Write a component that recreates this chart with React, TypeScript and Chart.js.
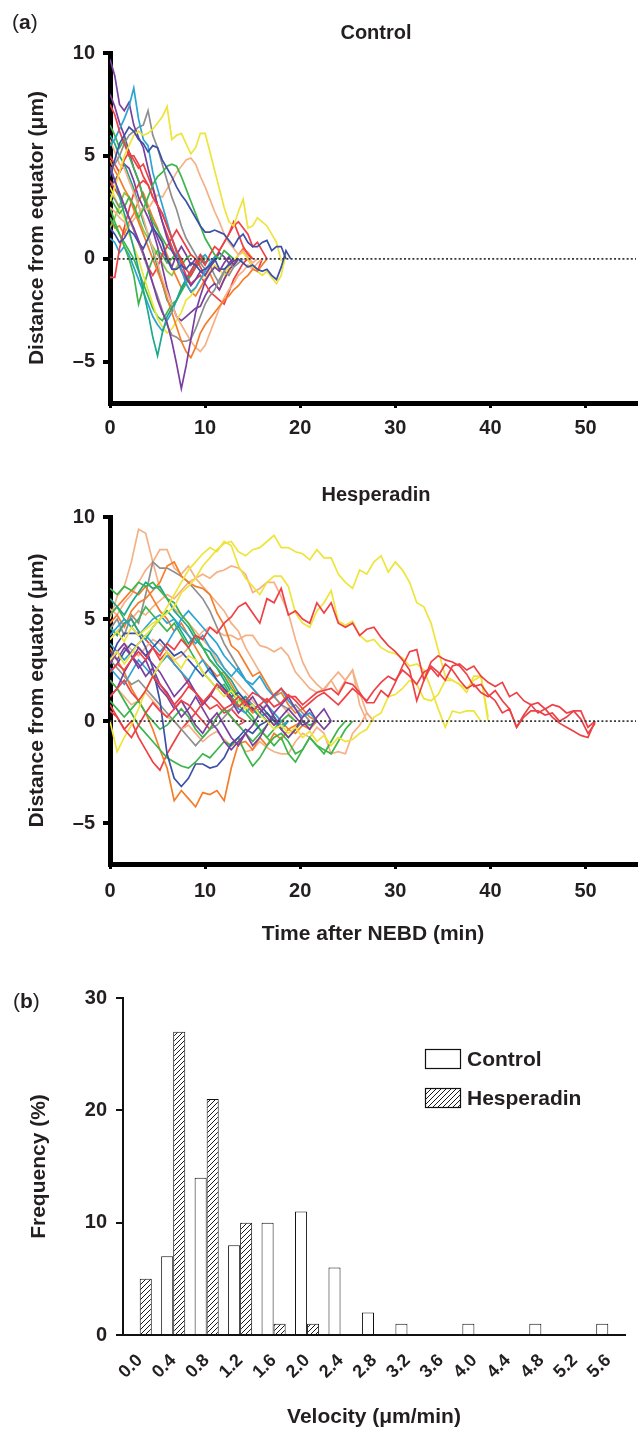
import React, { useEffect, useRef } from "react";
import { Chart, registerables } from "chart.js";

Chart.register(...registerables);

const FONT = "'Liberation Sans', Arial, Helvetica, sans-serif";
const INK = "#231f20";
const W = 639;

const YELLOW = "#eee43a";
const PEACH = "#f5b186";
const ORANGE = "#f47d2a";
const RED = "#ee4145";
const GREEN = "#3db54b";
const TEAL = "#1ca88c";
const CYAN = "#2ba4d4";
const BLUE = "#3c50a6";
const PURPLE = "#7a3f9f";
const GRAY = "#8f8f8f";
const LIME = "#8dc641";

const X_TICKS = [0, 10, 20, 30, 40, 50];
const Y_TICKS = [-5, 0, 5, 10];
const X_MAX = 55.3;
const CONTROL_STEP = 0.5; // min between positions
const HESP_STEP = 0.75;

// ---- Control traces (distance from equator, µm) ----
const C_YELLOW_A = [2.8,3.5,4.2,5.0,5.5,6.0,6.2,6.0,6.1,6.3,6.6,6.9,7.4,5.8,6.0,6.1,5.6,5.1,5.4,6.1,6.1,5.2,4.3,3.4,2.5,1.8,1.6,2.3,2.9,1.5,1.6,2.0,1.8,1.6,1.2,0.8,-0.1];
const C_YELLOW_B = [3.5,3.0,2.4,2.0,1.2,0.6,0.0,-0.8,-1.5,-2.2,-2.9,-3.3,-3.6,-3.4,-3.0,-2.6,-2.0,-1.8,-1.4,-1.0,-0.8,-0.6,-0.3,-0.5,-0.8,-0.4,-0.1,0.2,0.3,0.0,-0.4,-0.6,-0.8,-0.6,-0.9,-1.2,-0.8,0.3];
const C_PEACH_A = [2.5,2.3,2.0,1.8,1.6,1.9,2.2,2.5,2.4,2.8,3.1,3.0,3.4,3.8,4.2,4.5,4.8,4.9,4.6,4.0,3.5,2.9,2.3,1.8,1.2,0.8,0.5,0.2,0.4,0.1,-0.2,0.0];
const C_PEACH_B = [5.8,5.2,4.6,4.4,3.8,3.2,2.6,2.0,1.2,0.5,-0.2,-1.0,-1.6,-2.2,-2.8,-3.2,-3.6,-4.0,-4.3,-4.5,-4.2,-3.6,-3.0,-2.4,-1.9,-1.5,-1.2,-0.8,-0.6,-0.3,-0.5,-0.2,0.0];
const C_ORANGE_A = [4.8,4.3,3.9,3.4,3.0,2.4,1.8,1.2,0.6,0.0,-0.6,-1.2,-1.9,-2.6,-3.3,-4.0,-4.5,-4.8,-4.3,-3.6,-3.2,-2.9,-2.6,-2.3,-2.0,-1.8,-1.5,-1.3,-1.0,-0.8,-0.5,-0.6,-0.3,0.0];
const C_ORANGE_B = [2.0,1.5,1.6,1.2,1.8,2.2,2.8,3.2,2.6,2.0,1.5,0.8,0.2,-0.4,-0.9,-1.4,-1.2,-1.6,-1.8,-1.4,-1.0,-0.7,-1.2,-1.5,-1.0,-0.6,-0.2,0.2,0.5,0.3,0.0];
const C_GRAY_A = [4.3,4.6,5.0,5.6,6.0,6.2,6.4,6.5,7.2,6.0,5.4,4.6,3.8,3.0,2.4,1.6,1.0,0.6,0.2,-0.2,-0.5,-0.3,-0.8,-1.2,-0.6,-0.2,-0.4];
const C_GRAY_B = [3.2,2.9,2.5,2.6,2.0,1.4,0.8,0.2,-0.5,-1.2,-1.8,-2.5,-3.2,-3.7,-3.8,-4.0,-4.0,-3.9,-3.4,-2.8,-2.2,-1.8,-1.5,-1.0,-0.6,-0.8,-0.4,-0.2,0.0];
const C_PURPLE_A = [9.7,8.9,7.5,7.2,7.6,6.5,5.9,5.4,4.4,3.5,2.6,1.8,1.0,0.4,0.0,-0.5,-0.9,-1.3,-1.0,-0.6,-0.8,-0.4,-0.1,0.3,0.1,-0.2,0.0];
const C_PURPLE_B = [4.5,3.8,3.2,2.6,2.0,1.5,0.9,0.3,-0.4,-1.2,-2.0,-2.6,-3.1,-4.0,-5.1,-6.3,-5.2,-3.9,-2.6,-1.8,-1.1,-0.7,-0.4,-0.6,-0.2,0.1,-0.3,0.0];
const C_PURPLE_C = [3.5,3.8,4.2,4.6,4.4,3.8,3.0,2.5,2.0,1.4,0.6,-0.4,-1.4,-2.2,-2.8,-3.0,-2.8,-2.6,-2.4,-2.3,-1.8,-1.4,-1.2,-1.5,-1.0,-0.5,-0.3,0.0];
const C_PURPLE_D = [8.0,7.4,6.6,6.0,5.2,4.4,3.8,3.0,2.4,1.6,1.0,0.4,0.0,-0.4,0.2,0.6,0.2,-0.3,0.0];
const C_BLUE_A = [4.0,4.8,5.6,6.0,6.4,6.2,5.8,5.6,5.2,5.5,5.4,4.8,4.4,4.0,3.5,3.1,2.8,2.4,2.0,1.6,1.3,1.3,1.4,1.3,1.2,0.9,0.6,1.0,1.2,0.8,0.6,0.6,0.8,0.9,0.4,0.6,0.6,0.0];
const C_BLUE_B = [1.5,1.2,0.8,1.0,1.4,1.2,0.8,0.5,1.0,1.5,1.2,0.8,0.0,-0.5,-0.5,-0.3,-0.5,-0.2,-0.3,-0.6,-0.5,-0.3,0.0,-0.5,-0.5,-0.3,-0.1,0.0,-0.2,-0.4,-0.3,-0.5,-0.6,-0.5,-0.8,-1.0,-0.4,0.4,0.0];
const C_CYAN_A = [5.5,5.8,6.3,6.8,7.4,8.3,6.8,5.8,5.5,4.2,3.4,2.6,1.8,1.0,0.3,-0.5,-1.2,-1.6,-1.4,-1.0,-0.6,-0.2,0.1,0.0];
const C_CYAN_B = [1.0,0.8,0.3,0.6,0.2,-0.4,-1.0,-1.6,-2.2,-2.8,-3.2,-3.5,-3.0,-2.6,-2.0,-1.5,-1.0,-0.6,-0.2,0.0,0.2,-0.1];
const C_TEAL_A = [4.5,3.8,3.0,2.2,1.4,0.5,-0.5,-1.5,-2.6,-3.8,-4.7,-3.6,-2.8,-2.4,-2.0,-1.5,-1.0,-0.8,-0.4,0.0,-0.2,0.0];
const C_TEAL_B = [6.0,5.6,5.0,4.6,4.0,3.4,2.6,1.8,1.2,0.4,-0.4,-1.2,-2.0,-2.4,-2.0,-1.4,-1.0,-0.6,-0.2,0.2,0.0];
const C_GREEN_A = [2.5,1.8,1.2,0.6,0.0,-0.8,-2.2,-1.4,-0.6,0.0,0.4,0.2,-0.2,0.0,0.3,0.0];
const C_GREEN_B = [3.0,2.6,2.2,2.5,3.0,2.6,2.0,2.4,3.0,3.6,4.0,4.2,4.5,4.6,4.5,4.0,3.4,2.8,2.2,1.6,1.0,0.6,0.2,0.0,0.4,0.2,0.0];
const C_GREEN_C = [6.5,6.0,5.4,5.8,5.0,4.4,3.8,3.0,2.4,1.8,1.4,1.0,0.6,0.4,0.0,-0.3,0.0,0.2];
const C_GREEN_D = [2.0,1.6,1.2,0.8,0.4,0.0,-0.6,-1.2,-1.8,-2.4,-2.8,-3.0,-2.6,-2.2,-2.0,-1.6,-1.2,-0.8,-0.4,-0.2,0.0];
const C_RED_A = [7.5,7.0,6.2,5.6,5.0,5.0,4.6,4.0,3.6,3.0,2.6,2.2,1.6,1.0,0.4,0.0,-0.5,-0.8,-0.4,0.0,-0.3,0.2,0.6,0.4,0.8,1.2,1.6,1.8,1.5,1.2,0.6,0.8,0.4,0.0];
const C_RED_B = [-0.9,-0.9,0.5,1.5,2.4,3.2,3.6,3.8,3.6,3.0,2.6,2.2,1.6,1.0,0.4,-0.2,-0.8,-1.2,-1.0,-0.8,-1.2,-1.6,-1.8,-2.0,-2.2,-1.6,-1.0,-0.6,-0.2,0.0,-0.4,-0.6,0.0];
const C_RED_C = [5.0,4.6,4.2,4.8,5.2,4.8,4.4,4.6,4.0,3.4,2.6,1.8,1.2,0.6,0.0,-0.6,-1.0,-0.6,-0.2,0.2,-0.2,0.0];
const C_RED_D = [3.8,3.4,3.0,2.6,2.0,1.4,0.8,0.2,-0.4,-0.8,-0.4,0.2,0.6,1.0,1.4,1.0,0.6,0.2,0.0,-0.4,-0.8,-0.4,0.0,0.4,0.8,1.2,1.8,1.2,0.6,0.2,0.0];
const C_LIME = [1.5,2.0,2.6,3.2,3.0,2.6,2.0,1.4,1.0,0.6,0.2,-0.2,-0.6,-0.8,-0.4,0.0];

// ---- Hesperadin traces ----
const H_RED_A = [2.4,2.8,2.5,3.0,3.4,3.0,3.6,3.2,3.8,3.5,4.0,3.6,4.2,4.0,4.6,4.3,4.8,5.1,5.6,5.8,5.3,4.8,6.0,5.8,6.5,5.2,5.4,5.0,4.8,5.8,5.3,5.8,4.8,4.6,4.8,4.2,4.5,4.6,4.1,3.7,3.4,3.0,2.5,1.0,2.0,2.7,2.4,2.0,2.7,2.8,2.5,2.7,2.2,1.9,1.7,1.9,1.2,1.4,1.0,0.8,0.9,0.6,0.8,0.7,0.4,0.5,0.5,-0.3,0.0];
const H_RED_B = [1.2,1.6,2.0,1.4,1.0,1.5,2.2,1.8,1.3,0.8,1.2,1.7,1.4,0.9,1.3,1.8,1.5,1.1,0.7,1.0,1.4,1.2,0.9,1.3,1.6,1.2,1.2,0.8,1.1,1.4,1.5,1.6,1.3,1.9,1.8,1.4,0.9,0.9,1.5,1.2,1.9,2.7,3.4,3.5,2.0,2.9,3.2,3.0,2.9,2.7,2.3,1.7,1.8,1.3,1.0,0.4,0.6,-0.3,0.2,0.5,0.5,0.3,0.4,0.0,0.2,0.5,0.1,-0.6,-0.1];
const H_RED_C = [0.5,0.2,-0.4,-0.8,-0.2,0.4,0.9,0.5,0.2,0.6,1.0,0.8,0.4,0.9,1.3,1.0,0.6,0.8,1.2,0.9,0.5,0.8,1.1,0.7,0.9,1.3,1.0,0.6,0.9,1.2,1.4,1.1,0.8,1.2,1.6,1.3,1.0,1.5,1.9,2.2,2.0,2.5,2.2,1.8,2.4,2.6,2.2,2.8,2.5,2.0,1.6,1.8,1.4,1.2,1.5,1.0,0.6,-0.3,0.3,0.8,0.4,0.6,0.2,-0.1,-0.3,-0.5,-0.7,-0.8,0.0];
const H_RED_D = [0.8,0.2,-0.4,0.0,-0.8,-1.4,-2.0,-2.4,-1.6,-1.0,-0.4,0.0,0.4,0.0,-0.4,0.2,0.6,0.2,-0.2,0.0];
const H_RED_E = [4.6,4.2,4.8,5.0,4.4,4.0,3.6,3.0,3.4,2.8,2.4,1.8,1.4,1.0,0.6,0.8,0.4,0.6,0.2,0.0];
const H_YELLOW_A = [4.0,4.4,3.9,4.6,4.2,4.5,4.8,5.0,5.3,5.6,6.3,6.6,7.0,7.6,8.0,8.4,8.7,8.8,8.3,8.1,8.4,8.5,8.8,9.1,8.5,8.5,8.3,8.2,7.9,8.4,8.0,8.0,7.2,6.8,6.5,7.4,7.2,7.8,8.1,7.3,7.8,7.4,6.8,5.8,5.6,4.8,3.5,2.2,2.0,1.8,1.4,2.2,2.2,0.0];
const H_YELLOW_B = [3.0,3.4,2.8,3.3,3.8,4.2,4.6,5.0,5.6,6.2,6.8,7.4,7.8,8.2,8.5,8.3,8.8,8.6,7.6,7.0,6.6,6.2,6.8,7.1,7.1,6.6,5.3,4.8,4.6,5.4,5.8,6.4,4.9,4.7,4.9,4.2,3.9,4.0,3.6,3.4,3.3,3.1,2.7,2.8,2.5,1.6,0.6,-0.3,0.5,0.4,0.5,0.5,0.0];
const H_YELLOW_C = [0.0,-1.5,-0.8,-0.2,0.6,1.5,2.2,2.8,3.4,3.0,2.6,3.2,3.0,2.4,2.0,1.6,1.2,1.5,1.0,0.6,0.8,0.3,0.0,-0.4,-0.2,-0.6,-0.3,-0.8,-0.5,-1.0,-0.7,-1.2,-0.8,-1.0,-0.9,-0.6,-0.4,0.2,0.4,1.2,1.3,1.6,2.0,1.8,1.1,1.0,1.3,2.0,2.0,1.8,1.6,2.0,2.2,0.2];
const H_PEACH_A = [5.0,6.1,6.6,7.8,9.4,9.2,7.8,6.5,6.0,5.5,5.2,4.8,4.4,4.0,3.6,3.0,2.6,2.2,1.8,1.4,1.0,0.6,0.8,0.4,0.0];
const H_PEACH_B = [4.0,4.4,4.8,5.0,5.4,5.2,5.6,5.9,6.2,6.0,6.4,6.8,7.0,7.2,7.0,7.3,7.4,7.6,7.5,7.2,6.3,6.5,6.8,6.8,6.1,5.3,4.0,2.9,2.2,1.8,1.5,2.0,1.4,2.0,2.5,0.8,0.0];
const H_PEACH_C = [3.0,3.4,3.8,3.5,3.2,3.6,4.0,3.8,3.4,3.0,3.2,3.6,4.0,4.4,4.6,4.4,4.2,4.2,4.0,4.2,4.2,3.7,3.6,3.4,3.6,3.2,2.4,2.0,1.6,1.4,1.6,2.0,2.4,2.0,2.5,1.4,0.4,0.0];
const H_PEACH_D = [2.0,1.6,1.2,0.8,1.0,1.4,1.0,0.6,0.2,0.0,-0.4,-0.2,-0.6,-1.0,-0.7,-0.5,-0.9,-1.2,-1.0,-1.5,-1.4,-1.0,-1.3,-1.5,-1.6,-1.6,-1.0,-0.6,-0.8,-0.3,-0.6,-1.6,-1.5,-1.6,-0.6,-0.2,0.4,0.0];
const H_PEACH_E = [5.5,5.2,5.8,6.2,6.8,7.4,7.8,8.4,8.4,7.5,7.2,7.6,7.0,6.6,6.2,5.8,5.4,4.8,4.4,3.6,3.0,2.4,1.8,1.2,0.8,0.4,0.0];
const H_ORANGE_A = [3.6,3.0,2.4,1.6,1.0,0.4,-0.4,-1.4,-2.3,-3.9,-3.4,-3.8,-4.2,-3.5,-3.6,-3.4,-3.9,-2.3,-1.1,-1.0,-1.4,-0.8,-1.2,-0.6,-0.9,-0.4,-0.6,-0.2,-0.4,0.0];
const H_ORANGE_B = [4.8,5.2,4.6,5.4,5.8,6.0,6.4,6.8,7.6,7.8,7.1,6.8,6.6,6.5,6.2,5.3,4.7,3.7,3.4,2.8,2.2,2.4,1.8,1.2,1.4,0.8,0.4,0.6,0.2,0.0];
const H_ORANGE_C = [5.2,5.6,6.0,6.4,6.2,6.6,6.0,5.4,5.0,4.4,4.8,4.2,3.6,3.0,2.6,2.2,2.4,1.8,1.2,0.8,0.4,0.6,0.2,-0.2,0.0,-0.4,-0.2,0.0];
const H_GRAY_A = [4.5,5.0,4.2,5.2,4.8,6.2,7.8,7.5,7.5,7.3,7.1,6.8,6.4,6.0,5.4,4.6,3.8,3.2,2.6,2.0,1.6,1.2,1.0,1.2,0.8,0.6,0.8,0.4,0.0];
const H_GRAY_B = [3.0,2.6,2.2,1.8,2.0,1.6,1.2,0.8,0.4,0.0,-0.4,-0.8,-1.2,-0.8,-0.4,-0.2,0.2,0.6,1.0,1.2,0.8,0.4,0.0];
const H_GREEN_A = [6.5,6.2,6.6,6.4,6.8,6.6,6.8,6.4,6.0,5.8,5.2,4.8,4.2,3.6,3.0,2.6,2.2,1.6,1.2,0.6,0.2,-0.4,-0.8,-1.2,-0.8,-1.6,-2.0,-1.4,-0.8,-1.2,-1.4,-1.6,-1.0,-0.4,0.0];
const H_TEAL_A = [6.0,5.6,5.2,5.8,6.3,6.8,6.5,6.6,6.0,5.4,5.0,4.6,4.0,3.6,3.4,2.8,2.4,2.0,1.4,1.0,0.6,0.2,0.4,0.0,-0.4,0.0];
const H_GREEN_B = [2.0,1.6,1.0,0.4,-0.2,-0.6,-1.0,-1.4,-1.8,-2.0,-2.2,-2.3,-2.0,-1.6,-1.8,-1.4,-1.0,-1.2,-0.8,-1.6,-2.2,-1.8,-1.2,-0.8,-0.6,-1.0,-1.6,-1.4,-0.8,-1.2,-1.6,-1.0,-0.4,0.0];
const H_GREEN_C = [5.2,5.6,5.0,4.6,5.0,5.6,5.2,4.8,4.4,4.8,4.2,3.6,3.0,2.4,2.0,1.6,1.8,1.2,0.8,0.4,0.0,-0.4,-0.8,-0.4,0.0,0.3,0.0];
const H_TEAL_B = [4.6,4.2,4.8,5.0,4.4,4.0,4.6,5.0,5.4,5.0,4.4,3.8,4.2,3.6,3.0,2.6,2.0,1.4,1.0,1.2,0.6,0.2,0.4,0.0];
const H_GREEN_D = [1.0,0.6,0.2,0.6,1.0,0.4,0.0,-0.4,-0.2,0.2,0.6,0.2,-0.4,-0.8,-0.4,0.2,0.6,0.2,-0.2,-0.6,-1.0,-0.6,-0.2,0.2,-0.4,-0.8,-0.4,0.0,-0.2,0.0];
const H_CYAN_A = [3.8,3.4,3.0,3.4,3.8,4.2,3.8,3.4,3.8,4.4,5.0,5.4,5.0,4.6,4.2,3.8,3.2,2.8,2.4,2.0,1.8,2.2,1.6,1.2,1.6,1.0,0.6,0.2,0.4,0.0];
const H_CYAN_B = [2.6,2.2,1.8,2.4,3.0,2.6,2.2,2.8,3.2,2.8,2.4,2.0,2.6,3.0,2.4,2.0,1.6,1.0,0.6,0.4,0.8,0.4,0.0,0.2,-0.2,0.0];
const H_CYAN_C = [4.2,4.6,5.0,4.6,4.2,4.6,5.0,5.2,4.8,5.0,4.6,4.2,3.8,4.2,3.6,3.2,2.6,2.2,2.6,2.0,1.6,1.2,0.8,0.4,0.0];
const H_BLUE_A = [3.0,3.8,4.3,4.3,4.3,3.6,2.6,1.0,-1.6,-2.8,-3.2,-2.8,-2.1,-2.1,-2.3,-2.2,-1.8,-1.1,-0.8,-0.4,-0.6,-0.2,0.0];
const H_BLUE_B = [2.4,2.8,3.4,3.8,3.6,3.2,3.6,4.0,3.6,3.2,3.4,3.0,2.6,2.2,2.6,2.0,1.6,1.2,1.4,1.0,0.6,0.8,0.4,0.0];
const H_PURPLE_A = [3.4,3.0,3.6,3.2,2.6,3.0,2.2,1.6,1.2,0.6,1.0,0.4,-0.2,-0.6,0.0,0.4,-0.2,-0.8,-1.2,-0.6,-0.2,0.4,0.8,0.2,-0.4,-0.8,-0.4,0.2,0.6,0.0,-0.4,0.0];
const H_PURPLE_B = [2.8,3.4,3.8,3.2,2.8,2.2,2.6,1.8,1.4,0.8,0.2,0.6,1.2,0.6,0.0,-0.4,-1.0,-1.4,-1.0,-0.6,-1.2,-0.8,-0.2,0.4,0.8,1.2,0.6,0.0,-0.4,0.2,0.6,0.0];
const H_PURPLE_C = [1.2,1.6,2.4,3.0,3.6,3.2,2.8,2.4,1.8,1.2,1.6,2.0,1.4,0.8,1.2,1.8,1.4,1.0,0.4,0.8,1.2,0.6,0.2,-0.2,0.2,0.6,0.2,-0.2,0.0];

const CONTROL_TRACES: [number[], string][] = [
  [C_PURPLE_B, PURPLE], [C_BLUE_A, BLUE], [C_BLUE_B, BLUE], [C_YELLOW_A, YELLOW], [C_RED_A, RED],
  [C_GREEN_B, GREEN], [C_CYAN_A, CYAN], [C_PURPLE_A, PURPLE], [C_TEAL_A, TEAL], [C_ORANGE_A, ORANGE],
  [C_GRAY_A, GRAY], [C_GRAY_B, GRAY], [C_PEACH_A, PEACH], [C_PEACH_B, PEACH], [C_YELLOW_B, YELLOW],
  [C_RED_B, RED], [C_RED_C, RED], [C_RED_D, RED], [C_GREEN_A, GREEN], [C_GREEN_C, GREEN],
  [C_GREEN_D, GREEN], [C_TEAL_B, TEAL], [C_CYAN_B, CYAN], [C_PURPLE_C, PURPLE], [C_PURPLE_D, PURPLE],
  [C_ORANGE_B, ORANGE], [C_LIME, LIME],
];

const HESP_TRACES: [number[], string][] = [
  [H_RED_A, RED], [H_RED_B, RED], [H_RED_C, RED], [H_YELLOW_A, YELLOW], [H_YELLOW_B, YELLOW],
  [H_YELLOW_C, YELLOW], [H_PURPLE_A, PURPLE], [H_PURPLE_B, PURPLE], [H_PURPLE_C, PURPLE], [H_BLUE_A, BLUE],
  [H_BLUE_B, BLUE], [H_GREEN_A, GREEN], [H_GREEN_B, GREEN], [H_GREEN_D, GREEN], [H_CYAN_A, CYAN],
  [H_CYAN_B, CYAN], [H_CYAN_C, CYAN], [H_TEAL_A, TEAL], [H_TEAL_B, TEAL], [H_GREEN_C, GREEN],
  [H_ORANGE_A, ORANGE], [H_ORANGE_B, ORANGE], [H_ORANGE_C, ORANGE], [H_GRAY_A, GRAY], [H_GRAY_B, GRAY],
  [H_PEACH_A, PEACH], [H_PEACH_B, PEACH], [H_PEACH_C, PEACH], [H_PEACH_D, PEACH], [H_PEACH_E, PEACH],
  [H_RED_D, RED], [H_RED_E, RED],
];

// ---- Histogram ----
const VELOCITY_BINS = ["0.0","0.4","0.8","1.2","1.6","2.0","2.4","2.8","3.2","3.6","4.0","4.4","4.8","5.2","5.6"];
const CONTROL_FREQ = [0,7,14,8,10,11,6,2,1,0,1,0,1,0,1];
const HESP_FREQ = [5,27,21,10,1,1,0,0,0,0,0,0,0,0,0];
const FREQ_TICKS = [0,10,20,30];

function dashLabel(v: number) {
  return v < 0 ? "\u2013" + Math.abs(v) : String(v);
}

function drawLetter(ctx: CanvasRenderingContext2D, letter: string, x: number, y: number) {
  ctx.save();
  ctx.fillStyle = INK;
  ctx.textBaseline = "middle";
  ctx.textAlign = "left";
  let cx = x;
  ctx.font = `21px ${FONT}`;
  ctx.fillText("(", cx, y);
  cx += ctx.measureText("(").width;
  ctx.font = `bold 21px ${FONT}`;
  ctx.fillText(letter, cx, y);
  cx += ctx.measureText(letter).width;
  ctx.font = `21px ${FONT}`;
  ctx.fillText(")", cx, y);
  ctx.restore();
}

type PanelGeom = {
  top: number; axisH: number; tickPad: number; title: string; titleY: number;
  letter?: string; xTitle?: string;
};

function tracePanel(traces: [number[], string][], step: number, g: PanelGeom): any {
  const datasets: any[] = [
    {
      label: "equator",
      data: [{ x: 0, y: 0 }, { x: X_MAX, y: 0 }],
      borderColor: "#3a3a3a", borderWidth: 1.6, borderDash: [2, 2.2],
      pointRadius: 0, order: 0,
    },
    ...traces.map(([vals, color], k) => ({
      label: "cell " + (k + 1),
      data: vals.map((v, i) => ({ x: i * step, y: v })),
      borderColor: color, borderWidth: 1.7, pointRadius: 0, tension: 0, order: 1, fill: false,
    })),
  ];
  const annot = {
    id: "panelText",
    afterDraw(chart: any) {
      const ctx = chart.ctx as CanvasRenderingContext2D;
      ctx.save();
      ctx.fillStyle = INK;
      ctx.font = `bold 20px ${FONT}`;
      ctx.textAlign = "center";
      ctx.textBaseline = "middle";
      ctx.fillText(g.title, 376, g.titleY);
      ctx.restore();
      if (g.letter) drawLetter(ctx, g.letter, 12, 23);
    },
  };
  const tickFont = { family: FONT, size: 20, weight: "bold" as const };
  return {
    type: "line",
    data: { datasets },
    plugins: [annot],
    options: {
      responsive: false, animation: false, devicePixelRatio: 1,
      layout: { padding: { top: g.top, right: 3, left: 0, bottom: 0 } },
      plugins: { legend: { display: false }, tooltip: { enabled: false }, title: { display: false } },
      scales: {
        x: {
          type: "linear", min: 0, max: X_MAX,
          afterFit: (s: any) => { s.height = g.axisH; },
          afterBuildTicks: (s: any) => { s.ticks = X_TICKS.map((v) => ({ value: v })); },
          border: { display: true, color: "#000", width: 5 },
          grid: { display: true, drawOnChartArea: false, drawTicks: true, tickLength: 5, lineWidth: 3, color: "#000" },
          ticks: { color: INK, font: tickFont, padding: g.tickPad, maxRotation: 0, autoSkip: false },
          title: g.xTitle
            ? { display: true, text: g.xTitle, color: INK, font: { family: FONT, size: 21, weight: "bold" }, padding: { top: 0, bottom: 13 } }
            : { display: false },
        },
        y: {
          type: "linear", min: -7, max: 10,
          afterFit: (s: any) => { s.width = 110; },
          afterBuildTicks: (s: any) => { s.ticks = Y_TICKS.map((v) => ({ value: v })); },
          border: { display: true, color: "#000", width: 5 },
          grid: { display: true, drawOnChartArea: false, drawTicks: true, tickLength: 7, lineWidth: 4, color: "#000" },
          ticks: { color: INK, font: tickFont, padding: 8, callback: (v: number) => dashLabel(v) },
          title: { display: true, text: "Distance from equator (\u03bcm)", color: INK, font: { family: FONT, size: 21, weight: "bold" }, padding: { top: 25, bottom: 0 } },
        },
      },
    },
  };
}

function makeHatch(ctx: CanvasRenderingContext2D): CanvasPattern {
  const c = document.createElement("canvas");
  const n = 5;
  c.width = n; c.height = n;
  const g = c.getContext("2d")!;
  g.fillStyle = "#fff";
  g.fillRect(0, 0, n, n);
  g.strokeStyle = "#1a1a1a";
  g.lineWidth = 1;
  g.beginPath();
  g.moveTo(-1, n + 1); g.lineTo(n + 1, -1);
  g.moveTo(-1, 1); g.lineTo(1, -1);
  g.moveTo(n - 1, n + 1); g.lineTo(n + 1, n - 1);
  g.stroke();
  return ctx.createPattern(c, "repeat")!;
}

function histConfig(canvas: HTMLCanvasElement): any {
  const hatch = makeHatch(canvas.getContext("2d")!);
  const legend = {
    id: "histLegend",
    afterDraw(chart: any) {
      const ctx = chart.ctx as CanvasRenderingContext2D;
      const rows: [string, any, number][] = [["Control", "#fff", 99], ["Hesperadin", hatch, 138]];
      ctx.save();
      for (const [label, fill, y] of rows) {
        ctx.fillStyle = fill;
        ctx.fillRect(425, y - 10, 36, 20);
        ctx.strokeStyle = "#111";
        ctx.lineWidth = 1.2;
        ctx.strokeRect(425.5, y - 9.5, 35, 19);
        ctx.fillStyle = INK;
        ctx.font = `bold 21px ${FONT}`;
        ctx.textAlign = "left";
        ctx.textBaseline = "middle";
        ctx.fillText(label, 467, y + 1);
      }
      ctx.restore();
      drawLetter(ctx, "b", 13, 42);
    },
  };
  return {
    type: "bar",
    data: {
      labels: VELOCITY_BINS,
      datasets: [
        { label: "Control", data: CONTROL_FREQ, backgroundColor: "#ffffff", borderColor: "#111", borderWidth: 1 },
        { label: "Hesperadin", data: HESP_FREQ, backgroundColor: hatch, borderColor: "#111", borderWidth: 1 },
      ],
    },
    plugins: [legend],
    options: {
      responsive: false, animation: false, devicePixelRatio: 1,
      layout: { padding: { top: 38, right: 14, left: 0, bottom: 0 } },
      datasets: { bar: { categoryPercentage: 0.72, barPercentage: 1.0 } },
      plugins: { legend: { display: false }, tooltip: { enabled: false }, title: { display: false } },
      scales: {
        x: {
          type: "category",
          afterFit: (s: any) => { s.height = 97; },
          border: { display: true, color: "#111", width: 2 },
          grid: { display: false },
          ticks: { color: INK, font: { family: FONT, size: 18, weight: "bold" }, minRotation: 45, maxRotation: 45, autoSkip: false, padding: 7 },
          title: { display: true, text: "Velocity (\u03bcm/min)", color: INK, font: { family: FONT, size: 21, weight: "bold" }, padding: { top: 0, bottom: 2 } },
        },
        y: {
          type: "linear", min: 0, max: 30,
          afterFit: (s: any) => { s.width = 123; },
          afterBuildTicks: (s: any) => { s.ticks = FREQ_TICKS.map((v) => ({ value: v })); },
          border: { display: true, color: "#111", width: 2 },
          grid: { display: true, drawOnChartArea: false, drawTicks: true, tickLength: 7, lineWidth: 2, color: "#111" },
          ticks: { color: INK, font: { family: FONT, size: 20, weight: "bold" }, padding: 9 },
          title: { display: true, text: "Frequency (%)", color: INK, font: { family: FONT, size: 21, weight: "bold" }, padding: { top: 27, bottom: 0 } },
        },
      },
    },
  };
}

function ChartCanvas({ height, build }: { height: number; build: (c: HTMLCanvasElement) => any }) {
  const ref = useRef<HTMLCanvasElement>(null);
  useEffect(() => {
    const canvas = ref.current!;
    const chart = new Chart(canvas, build(canvas));
    return () => chart.destroy();
  }, []);
  return <canvas ref={ref} width={W} height={height} style={{ display: "block", width: W, height }} />;
}

export default function App() {
  useEffect(() => {
    document.body.style.margin = "0";
    document.body.style.background = "#fff";
  }, []);
  return (
    <div style={{ width: W, background: "#fff" }}>
      <ChartCanvas
        height={470}
        build={() => tracePanel(CONTROL_TRACES, CONTROL_STEP, { top: 53, axisH: 67, tickPad: 8, title: "Control", titleY: 33, letter: "a" })}
      />
      <ChartCanvas
        height={490}
        build={() => tracePanel(HESP_TRACES, HESP_STEP, { top: 47, axisH: 96, tickPad: 10, title: "Hesperadin", titleY: 25, xTitle: "Time after NEBD (min)" })}
      />
      <ChartCanvas height={472} build={(c) => histConfig(c)} />
    </div>
  );
}
